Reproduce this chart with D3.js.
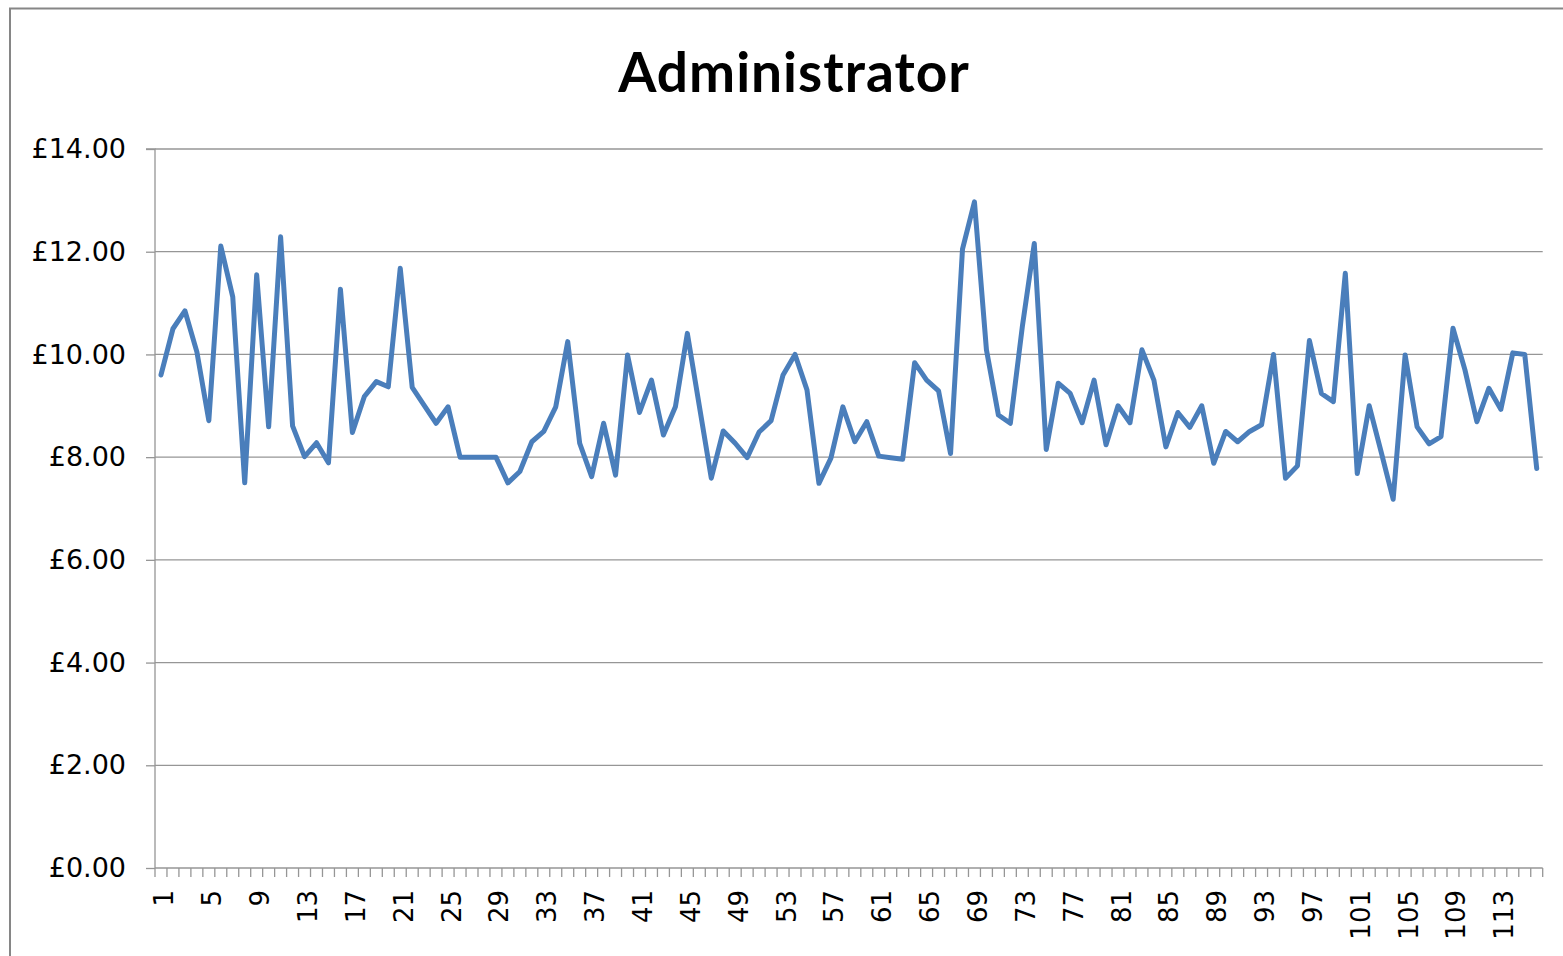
<!DOCTYPE html>
<html>
<head>
<meta charset="utf-8">
<script src="https://cdn.jsdelivr.net/npm/d3@7"></script>
<style>
  body { margin: 0; background: #fff; }
  svg { display: block; }
</style>
</head>
<body>
<div id="chart"></div>
<script>
// hourly rate per record, records numbered 1..116
const chartTitle = "Administrator";
const rates = [
  9.60, 10.50, 10.85, 10.05, 8.71, 12.11, 11.12, 7.50, 11.55, 8.59,
  12.29, 8.61, 8.01, 8.28, 7.89, 11.27, 8.48, 9.18, 9.47, 9.37,
  11.68, 9.36, 9.01, 8.66, 8.98, 8.00, 8.00, 8.00, 8.00, 7.50,
  7.72, 8.30, 8.50, 8.98, 10.25, 8.27, 7.62, 8.66, 7.65, 9.99,
  8.87, 9.50, 8.43, 8.98, 10.41, 9.00, 7.59, 8.51, 8.27, 7.99,
  8.49, 8.71, 9.60, 10.00, 9.31, 7.49, 7.98, 8.98, 8.30, 8.69,
  8.02, 7.99, 7.96, 9.84, 9.50, 9.29, 8.07, 12.05, 12.97, 10.09,
  8.82, 8.66, 10.54, 12.16, 8.15, 9.44, 9.24, 8.67, 9.50, 8.24,
  9.00, 8.67, 10.09, 9.50, 8.20, 8.87, 8.58, 9.00, 7.88, 8.50,
  8.30, 8.50, 8.63, 10.00, 7.59, 7.83, 10.27, 9.24, 9.08, 11.58,
  7.68, 9.00, 8.10, 7.18, 9.99, 8.59, 8.26, 8.40, 10.51, 9.70,
  8.69, 9.34, 8.93, 10.03, 10.00, 7.78
];
const records = rates.map((d, i) => i + 1);
const yTicks = [0, 2, 4, 6, 8, 10, 12, 14];

const width = 1563, height = 956;
const margin = { top: 149, left: 155, bottom: 88, right: 20 };

const svg = d3.select("#chart")
  .append("svg")
  .attr("width", width)
  .attr("height", height);

// chart frame
svg.append("rect")
  .attr("x", 10).attr("y", 8.5)
  .attr("width", width + 20).attr("height", height + 20)
  .attr("fill", "none")
  .attr("stroke", "#868686")
  .attr("stroke-width", 2);

svg.append("text")
  .attr("x", 794).attr("y", 92)
  .attr("text-anchor", "middle")
  .attr("font-family", "Lato, 'Open Sans', sans-serif")
  .attr("font-weight", "bold")
  .attr("font-size", 55)
  .attr("letter-spacing", 1)
  .attr("fill", "#000")
  .text(chartTitle);

const x = d3.scaleBand()
  .domain(records)
  .range([margin.left, 1542.7]);

const y = d3.scaleLinear()
  .domain([0, 14])
  .range([height - margin.bottom, margin.top]);

// gridlines
svg.append("g")
  .selectAll("line")
  .data(yTicks.filter(d => d > 0))
  .join("line")
  .attr("x1", margin.left).attr("x2", x.range()[1])
  .attr("y1", d => y(d)).attr("y2", d => y(d))
  .attr("stroke", "#969696")
  .attr("stroke-width", 1.3);

// y axis
const yAxis = svg.append("g")
  .attr("transform", `translate(${margin.left},0)`)
  .call(d3.axisLeft(y).tickValues(yTicks).tickSize(9).tickPadding(20)
    .tickFormat(d => "£" + d3.format(".2f")(d)));
yAxis.selectAll("path, line").attr("stroke", "#969696").attr("stroke-width", 1.3);
yAxis.select(".domain").attr("d", `M-9,${y(14)}H0V${y(0)}`);
yAxis.selectAll("text")
  .attr("font-family", "'DejaVu Sans', sans-serif")
  .attr("font-size", 27)
  .attr("fill", "#000");

// x axis: a tick on each category boundary, a label every 4th record
const xAxisG = svg.append("g")
  .attr("transform", `translate(0,${y(0)})`);
xAxisG.append("line")
  .attr("x1", margin.left).attr("x2", x.range()[1])
  .attr("y1", 0).attr("y2", 0)
  .attr("stroke", "#969696").attr("stroke-width", 1.3);
xAxisG.selectAll("line.tick")
  .data(records.concat([records.length + 1]))
  .join("line")
  .attr("class", "tick")
  .attr("x1", d => margin.left + (d - 1) * x.step())
  .attr("x2", d => margin.left + (d - 1) * x.step())
  .attr("y1", 0).attr("y2", 9)
  .attr("stroke", "#969696").attr("stroke-width", 1.3);
xAxisG.selectAll("text")
  .data(records.filter(d => (d - 1) % 4 === 0))
  .join("text")
  .attr("transform", d => `translate(${x(d) + x.bandwidth() / 2 + 12.5},22) rotate(-90)`)
  .attr("text-anchor", "end")
  .attr("font-family", "'DejaVu Sans', sans-serif")
  .attr("font-size", 26)
  .attr("fill", "#000")
  .text(d => d);

// series line
const line = d3.line()
  .x((d, i) => x(records[i]) + x.bandwidth() / 2)
  .y(d => y(d));

svg.append("path")
  .datum(rates)
  .attr("d", line)
  .attr("fill", "none")
  .attr("stroke", "#4a7ebb")
  .attr("stroke-width", 5)
  .attr("stroke-linejoin", "round")
  .attr("stroke-linecap", "round");
</script>
</body>
</html>
